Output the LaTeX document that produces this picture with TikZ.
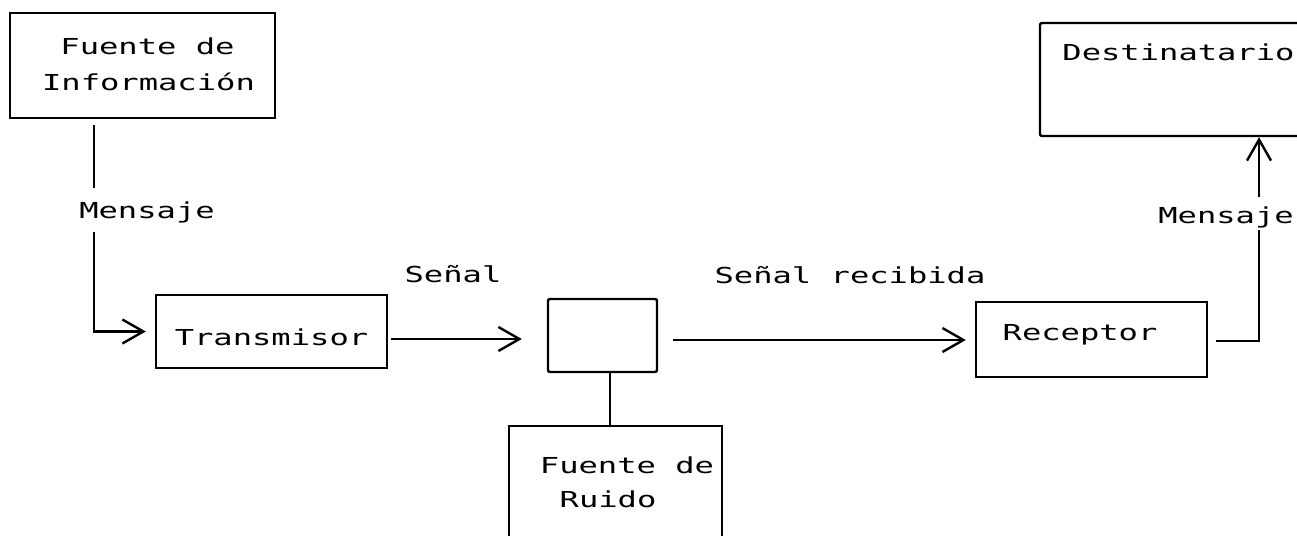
\documentclass[tikz,border=0pt]{standalone}
\usepackage{fontspec}
\newfontfamily\dotfont[FakeStretch=1.46]{DejaVu Sans Mono}
\usetikzlibrary{arrows.meta}
\begin{document}
\begin{tikzpicture}[x=1pt,y=-1pt,
  box/.style={draw, line width=2.4pt, inner sep=0pt},
  txt/.style={font=\dotfont\fontsize{22}{26}\selectfont, inner sep=0pt, anchor=base},
  conn/.style={line width=2.4pt},
  arr/.style={conn, -{Straight Barb[length=21pt,width=24pt]}}]
\useasboundingbox (0,0) rectangle (1297,535);
\clip (0,0) rectangle (1297,535);
% boxes
\node[box, minimum width=265pt, minimum height=105pt] (src) at (142.5,65.5) {};
\node[box, minimum width=231pt, minimum height=73pt] (tx) at (271.5,331.5) {};
\node[box, rounded corners=2pt, minimum width=109pt, minimum height=73pt] (ch) at (602.5,335.5) {};
\node[box, minimum width=213pt, minimum height=134pt] (noise) at (615.5,493) {};
\node[box, minimum width=231pt, minimum height=75pt] (rx) at (1091.5,339.5) {};
\node[box, rounded corners=2pt, minimum width=280pt, minimum height=113pt] (dest) at (1180,79.5) {};
% texts
\node[txt] (srct1) at (147.5,55) {Fuente de};
\node[txt] (srct2) at (148.5,90) {Información};
\node[txt] (txt) at (271.5,345) {Transmisor};
\node[txt] (noiset1) at (627,473) {Fuente de};
\node[txt] (noiset2) at (608,507) {Ruido};
\node[txt] (rxt) at (1080,340) {Receptor};
\node[txt] (destt) at (1178.5,60) {Destinatario};
\node[txt] (msg1) at (147,218) {Mensaje};
\node[txt] (sig) at (453,282) {Señal};
\node[txt] (sigr) at (850,283) {Señal recibida};
\node[txt] (msg2) at (1226,223) {Mensaje};
% coordinates around the labels
\coordinate (m1a) at (94,188);
\coordinate (m1b) at (94,232);
\coordinate (m2a) at (1259,197);
\coordinate (m2b) at (1259,230);
% connectors
\draw[conn, shorten <=6pt] (src.south -| m1a) -- (m1a);
\draw[arr, shorten >=9pt] (m1b) |- (tx.west);
\draw[arr, shorten <=3pt, shorten >=25pt] (tx.east |- 0,339) -- (ch.west |- 0,339);
\draw[conn] ([xshift=7.5pt]ch.south) -- ([xshift=7.5pt]ch.south |- noise.north);
\draw[arr, shorten <=15pt, shorten >=9pt] (ch.east |- 0,340) -- (rx.west |- 0,340);
\draw[conn, shorten <=8pt] (rx.east |- 0,341) -| (m2b);
\draw[arr] (m2a) -- (dest.south -| m2a);
\end{tikzpicture}
\end{document}
